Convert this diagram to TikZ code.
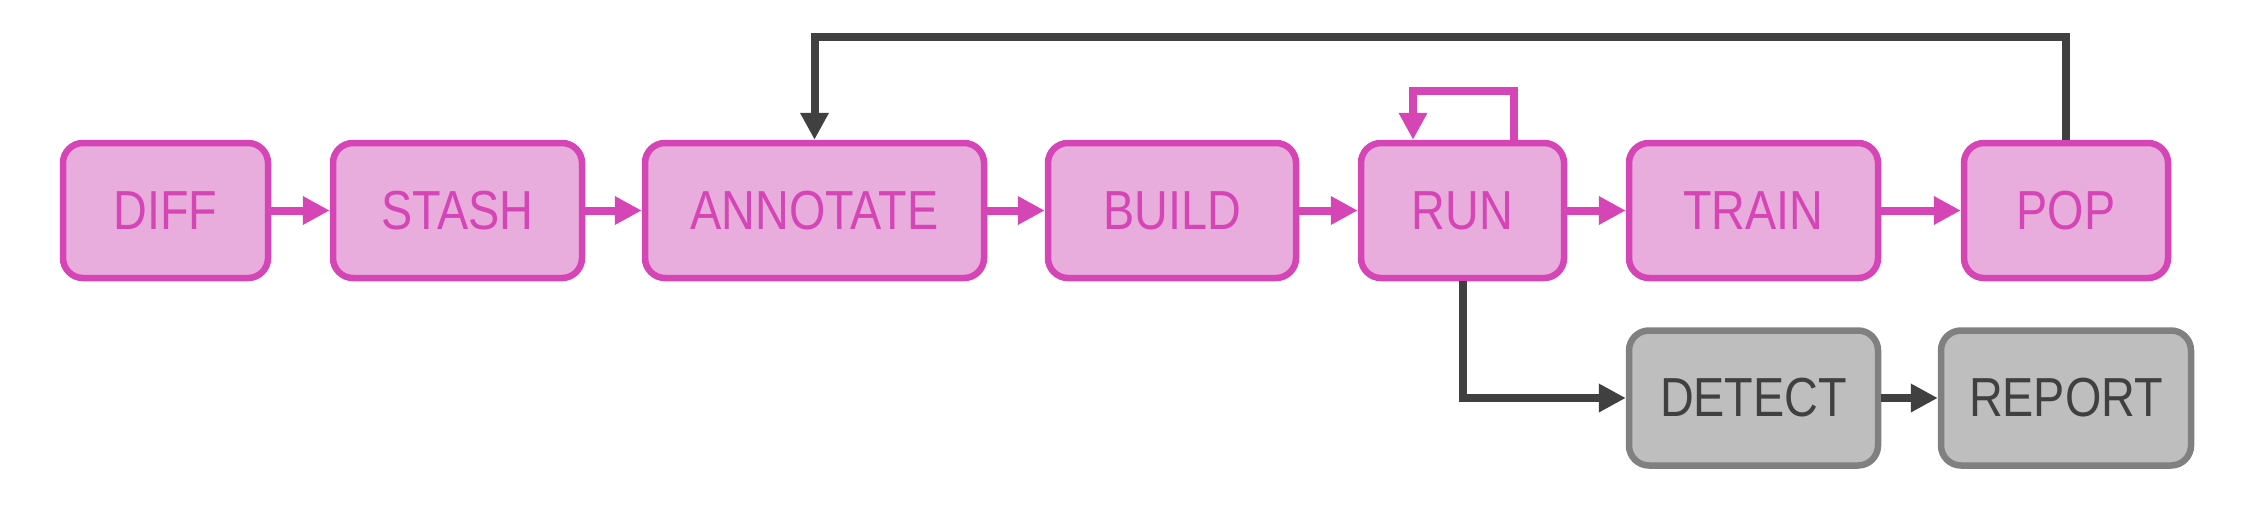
\documentclass[tikz,border=0pt]{standalone}
\usepackage{fontspec}
\newfontfamily\lblfont{Liberation Sans}[FakeStretch=0.85]
\usetikzlibrary{arrows.meta}
\definecolor{pkfill}{HTML}{E8ADDD}
\definecolor{pkline}{HTML}{D545B6}
\definecolor{gyfill}{HTML}{BEBEBE}
\definecolor{gyline}{HTML}{808080}
\definecolor{dark}{HTML}{404040}
\tikzset{
  box/.style={rounded corners=20pt, line width=6.5pt, minimum height=135pt, inner sep=0pt,
    font=\lblfont\fontsize{55}{60}\selectfont},
  pbox/.style={box, fill=pkfill, draw=pkline, text=pkline},
  gbox/.style={box, fill=gyfill, draw=gyline, text=dark},
  pk/.style={draw=pkline, line width=8pt, line join=miter, -{Triangle[length=27pt,width=27pt]}},
  dk/.style={draw=dark, line width=8pt, line join=miter, -{Triangle[length=27pt,width=27pt]}}
}
\begin{document}
\begin{tikzpicture}[x=1pt,y=-1pt]
\useasboundingbox (0,0) rectangle (2248,522);
\node[pbox, minimum width=205pt] (DIFF) at (165.5,210.5) {DIFF};
\node[pbox, minimum width=249pt] (STASH) at (457.5,210.5) {STASH};
\node[pbox, minimum width=339pt] (ANNOTATE) at (814.5,210.5) {ANNOTATE};
\node[pbox, minimum width=248pt] (BUILD) at (1172,210.5) {BUILD};
\node[pbox, minimum width=203pt] (RUN) at (1462.5,210.5) {RUN};
\node[pbox, minimum width=249pt] (TRAIN) at (1753.5,210.5) {TRAIN};
\node[pbox, minimum width=204pt] (POP) at (2066,210.5) {POP};
\node[gbox, minimum width=249pt] (DETECT) at (1753.5,398) {DETECT};
\node[gbox, minimum width=250pt] (REPORT) at (2066,398) {REPORT};

\draw[pk] (DIFF.east) -- (STASH.west);
\draw[pk] (STASH.east) -- (ANNOTATE.west);
\draw[pk] (ANNOTATE.east) -- (BUILD.west);
\draw[pk] (BUILD.east) -- (RUN.west);
\draw[pk] (RUN.east) -- (TRAIN.west);
\draw[pk] (TRAIN.east) -- (POP.west);

\coordinate (lr) at (1514,91);
\coordinate (ll) at (1413,91);
\draw[pk] (RUN.north -| lr) -- (lr) -- (ll) -- (RUN.north -| ll);

\coordinate (top) at (1400,37);
\draw[dk] (POP.north) |- (top) -| (ANNOTATE.north);

\draw[dk] (RUN.south) |- (DETECT.west);
\draw[dk] (DETECT.east) -- (REPORT.west);
\end{tikzpicture}
\end{document}
